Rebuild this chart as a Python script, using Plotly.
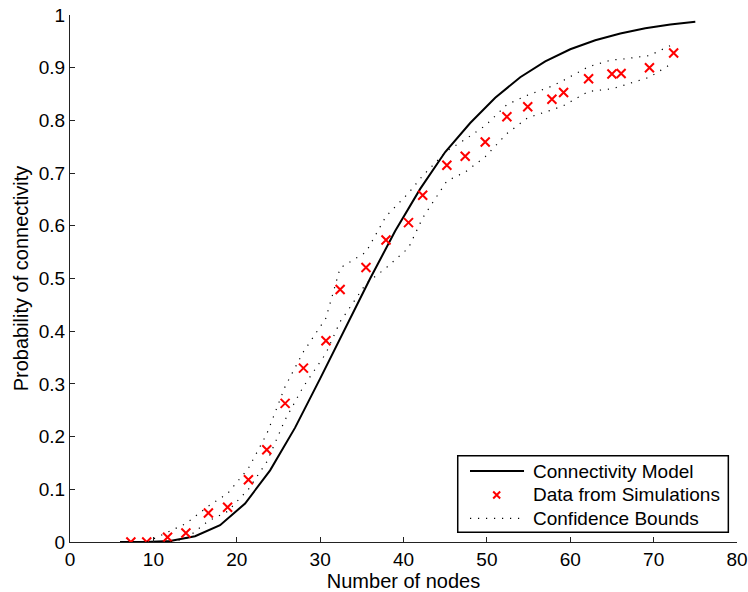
import plotly.graph_objects as go

# Analytical connectivity model
model_nodes = [6, 9, 12, 15, 18, 21, 24, 27, 30, 33, 36, 39, 42, 45, 48, 51, 54, 57, 60, 63, 66, 69, 72, 75]
model_prob = [0.0, 0.0, 0.002, 0.011, 0.032, 0.073, 0.136, 0.217, 0.31, 0.405, 0.50, 0.59, 0.67, 0.74,
              0.795, 0.843, 0.882, 0.912, 0.935, 0.952, 0.965, 0.975, 0.982, 0.987]

# Simulation results
sim_nodes = [7.3, 9.2, 11.7, 13.9, 16.6, 18.9, 21.4, 23.6, 25.8, 28.0, 30.7, 32.4, 35.5, 37.9,
             40.6, 42.3, 45.2, 47.4, 49.8, 52.4, 54.9, 57.8, 59.2, 62.2, 65.0, 66.1, 69.5, 72.4]
sim_prob = [0.0, 0.0, 0.009, 0.017, 0.055, 0.066, 0.118, 0.175, 0.263, 0.330, 0.382, 0.479, 0.521, 0.573,
            0.606, 0.658, 0.715, 0.732, 0.759, 0.807, 0.826, 0.840, 0.853, 0.879, 0.888, 0.889, 0.900, 0.928]

# Confidence bounds around the simulation results
bound_nodes = sim_nodes[1:]
upper_bound = [0.0, 0.018, 0.035, 0.068, 0.092, 0.14, 0.205, 0.295, 0.361, 0.425, 0.52, 0.55, 0.618,
               0.662, 0.695, 0.742, 0.764, 0.79, 0.83, 0.848, 0.865, 0.876, 0.902, 0.915, 0.916, 0.923, 0.945]
lower_bound = [0.0, 0.0, 0.006, 0.04, 0.058, 0.1, 0.152, 0.232, 0.295, 0.358, 0.418, 0.49, 0.52,
               0.558, 0.615, 0.685, 0.702, 0.731, 0.775, 0.805, 0.82, 0.828, 0.855, 0.86, 0.865, 0.882, 0.91]

legend_labels = ["Connectivity Model", "Data from Simulations", "Confidence Bounds"]

FONT = "Liberation Sans, Arial, sans-serif"
FS = 19
DOTS = "1.2px,6.8px"

LINE = dict(color="black", width=2)
MARKER = dict(symbol="x-thin", size=9, line=dict(color="red", width=2), color="red")
BOUND = dict(color="black", width=1.2, dash=DOTS)

fig = go.Figure()
fig.add_trace(go.Scatter(x=model_nodes, y=model_prob, mode="lines", line=LINE))
fig.add_trace(go.Scatter(x=sim_nodes, y=sim_prob, mode="markers", marker=MARKER))
fig.add_trace(go.Scatter(x=bound_nodes, y=upper_bound, mode="lines", line=BOUND))
fig.add_trace(go.Scatter(x=bound_nodes, y=lower_bound, mode="lines", line=BOUND))

# Boxed legend in the lower-right corner (paper coordinates)
box = dict(x0=0.5813, x1=0.9870, y0=0.0184, y1=0.1638)
rows_y = [0.1347, 0.0892, 0.0450]
sample_x0, sample_x1, sample_mid, text_x = 0.5997, 0.6807, 0.6397, 0.6912

fig.add_shape(type="rect", xref="paper", yref="paper", **box,
              line=dict(color="black", width=1.5), fillcolor="white", layer="below")
fig.add_shape(type="line", xref="paper", yref="paper", x0=sample_x0, x1=sample_x1,
              y0=rows_y[0], y1=rows_y[0], line=LINE, layer="above")
fig.add_shape(type="line", xref="paper", yref="paper", x0=sample_x0, x1=sample_x1,
              y0=rows_y[2], y1=rows_y[2], line=BOUND, layer="above")
fig.add_trace(go.Scatter(x=[sample_mid], y=[rows_y[1]], mode="markers", xaxis="x2", yaxis="y2",
                         marker=dict(symbol="x-thin", size=7, line=dict(color="red", width=2)),
                         hoverinfo="skip", cliponaxis=False))
for label, yy in zip(legend_labels, rows_y):
    fig.add_annotation(x=text_x, y=yy, xref="paper", yref="paper", text=label, showarrow=False,
                       xanchor="left", yanchor="middle",
                       font=dict(family=FONT, size=FS, color="black"))

axis_common = dict(showline=True, linecolor="#222", linewidth=1, ticks="inside", ticklen=5,
                   tickcolor="#222", showgrid=False, zeroline=False, automargin=False,
                   tickfont=dict(family=FONT, size=FS, color="black"),
                   title_font=dict(family=FONT, size=20, color="black"))

fig.update_layout(
    width=748, height=592,
    margin=dict(l=70, r=11, t=15, b=50, autoexpand=False),
    plot_bgcolor="white", paper_bgcolor="white",
    showlegend=False,
    xaxis=dict(range=[0, 80], dtick=10, title=dict(text="Number of nodes", standoff=2), **axis_common),
    yaxis=dict(range=[0, 1], dtick=0.1, title=dict(text="Probability of connectivity", standoff=4), **axis_common),
    xaxis2=dict(range=[0, 1], overlaying="x", visible=False, fixedrange=True),
    yaxis2=dict(range=[0, 1], overlaying="y", visible=False, fixedrange=True),
)

fig.write_html("out.html")
